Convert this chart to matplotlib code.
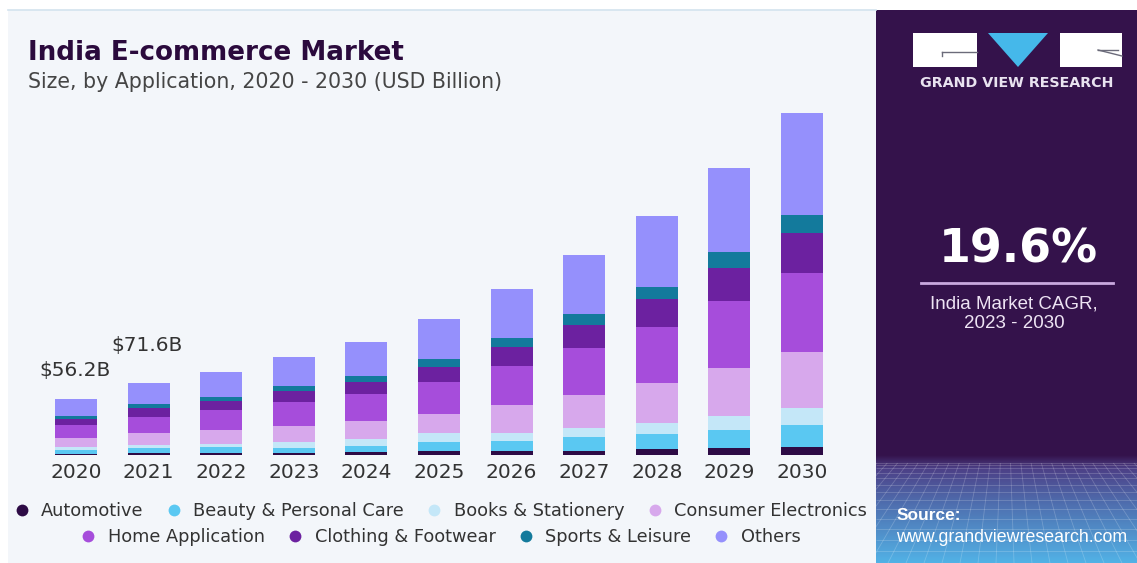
import numpy as np
import matplotlib
matplotlib.use("Agg")
import matplotlib.pyplot as plt
from matplotlib.patches import Rectangle, Polygon
from matplotlib.lines import Line2D
from matplotlib.collections import LineCollection
from matplotlib.colors import to_rgb

# ---- data (USD billion) ----
years = ["2020", "2021", "2022", "2023", "2024", "2025", "2026", "2027", "2028", "2029", "2030"]
segments = ["Automotive", "Beauty & Personal Care", "Books & Stationery", "Consumer Electronics",
            "Home Application", "Clothing & Footwear", "Sports & Leisure", "Others"]

automotive = [1.2, 1.7, 1.7, 2.3, 2.7, 4.0, 4.0, 4.0, 5.7, 6.7, 7.7]
beauty_personal_care = [4.1, 5.0, 6.0, 5.0, 6.6, 8.7, 10.0, 13.7, 15.0, 18.3, 22.3]
books_stationery = [2.6, 3.3, 3.3, 5.4, 6.4, 9.0, 8.3, 9.0, 11.6, 14.0, 16.7]
consumer_electronics = [8.8, 11.6, 14.0, 16.6, 18.3, 19.0, 27.7, 33.3, 40.0, 47.7, 56.7]
home_application = [13.4, 16.4, 20.0, 23.4, 27.0, 32.0, 39.0, 46.7, 55.4, 67.3, 79.0]
clothing_footwear = [5.9, 8.9, 9.0, 11.3, 12.3, 15.6, 18.7, 23.3, 28.3, 33.3, 40.0]
sports_leisure = [3.5, 4.3, 4.3, 5.3, 6.0, 7.7, 9.0, 11.0, 12.3, 15.4, 17.7]
others = [16.7, 20.4, 25.0, 28.4, 34.0, 40.0, 49.0, 59.0, 71.0, 84.6, 101.7]

labelled_years = ["2020", "2021"]
cagr_text = "19.6%"

series = [automotive, beauty_personal_care, books_stationery, consumer_electronics,
          home_application, clothing_footwear, sports_leisure, others]
colors = ["#2d0b45", "#5ac8f2", "#c4e7f8", "#d7a8ec", "#a64ddb", "#6c21a0", "#137a9c", "#9590fc"]

# ---- figure ----
W, H = 1137, 563
fig = plt.figure(figsize=(W / 100, H / 100), dpi=100)
fig.patch.set_facecolor("white")

# background layer in pixel coordinates (y grows downward)
bg = fig.add_axes([0, 0, 1, 1], zorder=0)
bg.set_xlim(0, W)
bg.set_ylim(H, 0)
bg.axis("off")

bg.add_patch(Rectangle((8, 10), 868, H - 10, facecolor="#f3f6fa", edgecolor="none"))
bg.plot([8, 876], [10, 10], color="#d3e3ee", lw=1.2)
bg.add_patch(Rectangle((876, 10), W - 876, H - 10, facecolor="#34124b", edgecolor="none"))

# gradient floor with perspective grid at the bottom of the side panel
stops_y = np.array([455, 468, 505, 563], dtype=float)
stops_c = np.array([to_rgb(c) for c in ["#34124b", "#4c3f86", "#4f70b0", "#52b2e6"]])
yy = np.linspace(455, 563, 200)
grad = np.stack([np.interp(yy, stops_y, stops_c[:, k]) for k in range(3)], axis=-1)[:, None, :]
bg.imshow(grad, extent=(876, W, 563, 455), aspect="auto", interpolation="bilinear", zorder=1)
clip = Rectangle((876, 455), W - 876, 563 - 455, transform=bg.transData, facecolor="none")
segs = []
for k in range(14):
    y = 463 + 100 * (k / 13) ** 1.6
    segs.append([(876, y), (W, y)])
vpx, vpy = 1006, 330
for xb in np.arange(600, 1450, 18):
    y0, y1 = 463, 563
    x0 = vpx + (xb - vpx) * (y0 - vpy) / (563 - vpy)
    segs.append([(x0, y0), (xb, y1)])
lc = LineCollection(segs, colors="white", linewidths=0.6, alpha=0.2, zorder=2)
bg.add_collection(lc)
lc.set_clip_path(clip)
bg.set_xlim(0, W)
bg.set_ylim(H, 0)

# logo
bg.add_patch(Rectangle((913, 33), 64, 34, facecolor="white", edgecolor="none", zorder=3))
bg.add_patch(Polygon([(988, 33), (1048, 33), (1018, 67)], closed=True,
                     facecolor="#45b8ea", edgecolor="none", zorder=3))
bg.add_patch(Rectangle((1060, 33), 62, 34, facecolor="white", edgecolor="none", zorder=3))
bg.plot([942, 977], [52, 52], color="#6b6b7a", lw=1, zorder=4)
bg.plot([942, 942], [52, 56], color="#6b6b7a", lw=1, zorder=4)
bg.plot([1098, 1122], [50, 56], color="#6b6b7a", lw=1, zorder=4)
bg.plot([1098, 1118], [50, 50], color="#6b6b7a", lw=1, zorder=4)
bg.text(1017, 83, "GRAND VIEW RESEARCH", ha="center", va="center", color="#e9e3f0",
        fontsize=10.3, fontweight="bold", family="DejaVu Sans", zorder=4)

# CAGR block
bg.text(1018, 250, cagr_text, ha="center", va="center", color="white",
        fontsize=33, fontweight="bold", family="DejaVu Sans", zorder=4)
bg.plot([921, 1113], [283, 283], color="#c9a9df", lw=2, zorder=4)
bg.text(1014, 304, "India Market CAGR,", ha="center", va="center", color="#eee4f4",
        fontsize=13.5, family="Liberation Sans", zorder=4)
bg.text(1014, 324, "2023 - 2030", ha="center", va="center", color="#eee4f4",
        fontsize=13.5, family="Liberation Sans", zorder=4)

# source
bg.text(897, 516, "Source:", ha="left", va="center", color="white",
        fontsize=12.5, fontweight="bold", family="Liberation Sans", zorder=4)
bg.text(896, 538, "www.grandviewresearch.com", ha="left", va="center", color="white",
        fontsize=12.8, family="Liberation Sans", zorder=4)

# titles
bg.text(28, 60, "India E-commerce Market", ha="left", va="baseline", color="#2b0a3d",
        fontsize=18.8, fontweight="bold", family="DejaVu Sans", zorder=4)
bg.text(28, 88, "Size, by Application, 2020 - 2030 (USD Billion)", ha="left", va="baseline",
        color="#454545", fontsize=14.8, family="DejaVu Sans", zorder=4)

# ---- stacked bars ----
x0_px, x_step = 76.0, 72.6
xlo, xhi = -0.6, 10.6
ax_left = x0_px + xlo * x_step
ax_w = (xhi - xlo) * x_step
base_px = 455
ymax = 355
ax = fig.add_axes([ax_left / W, (H - base_px) / H, ax_w / W, ymax / H], zorder=1)
ax.set_facecolor("none")
ax.set_xlim(xlo, xhi)
ax.set_ylim(0, ymax)

x = np.arange(len(years))
bottom = np.zeros(len(years))
for vals, col in zip(series, colors):
    v = np.array(vals)
    ax.bar(x, v, width=0.58, bottom=bottom, color=col, linewidth=0)
    bottom += v
totals = bottom

for sp in ax.spines.values():
    sp.set_visible(False)
ax.set_yticks([])
ax.set_xticks(x, years)
ax.tick_params(axis="x", length=0, pad=6, labelsize=14.5, labelcolor="#333333")
for lab in ax.get_xticklabels():
    lab.set_family("DejaVu Sans")

label_offsets = {"2020": (-1, 20.7), "2021": (-1.5, 27.4)}
for yr in labelled_years:
    i = years.index(yr)
    ax.annotate(f"${totals[i]:.1f}B", xy=(i, totals[i]), xytext=label_offsets[yr],
                textcoords="offset points", ha="center", va="center",
                fontsize=14.5, color="#333333", family="DejaVu Sans")

# ---- legend (two centred rows) ----
handles = [Line2D([], [], marker="o", ls="none", markersize=8.5, markerfacecolor=c,
                  markeredgewidth=0) for c in colors]
rows = [(slice(0, 4), 511), (slice(4, 8), 537)]
for sl, ypx in rows:
    fig.legend(handles[sl], segments[sl], loc="center", bbox_to_anchor=(440 / W, 1 - ypx / H),
               ncol=4, frameon=False, handlelength=1.0, handletextpad=0.6,
               columnspacing=1.2, borderpad=0, labelcolor="#333333",
               prop={"family": "DejaVu Sans", "size": 12.8})

fig.savefig("out.png", dpi=100)
